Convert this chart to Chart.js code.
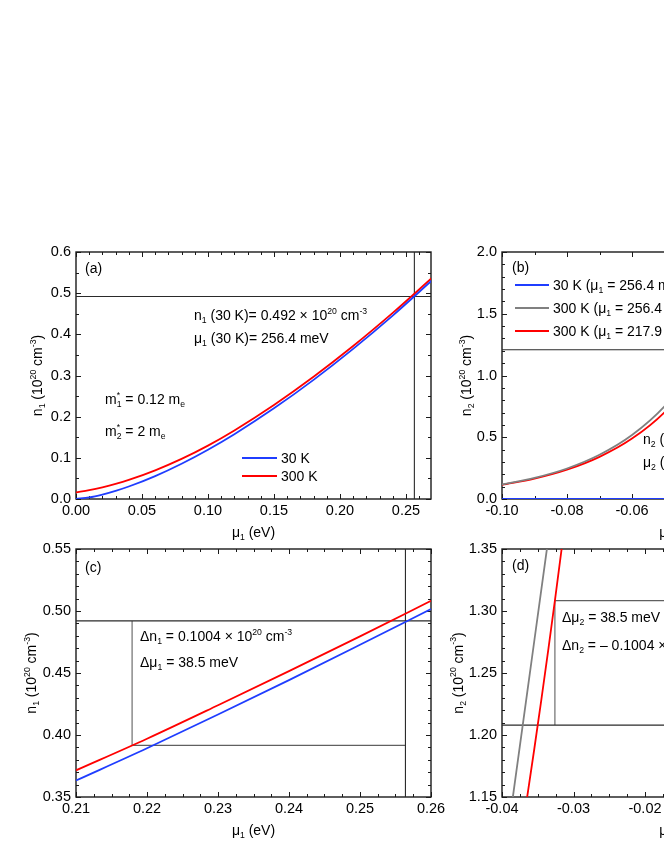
<!DOCTYPE html>
<html><head><meta charset="utf-8">
<script src="https://cdn.jsdelivr.net/npm/chart.js@4.4.1/dist/chart.umd.min.js"></script>
<style>
html,body{margin:0;padding:0;background:#fff;width:664px;height:860px;overflow:hidden;position:relative;}
canvas{position:absolute;}
</style></head><body>
<canvas id="ca"></canvas><canvas id="cb"></canvas><canvas id="cc"></canvas><canvas id="cd"></canvas>
<script>
// ---------------- DATA ----------------
// Panel (a): n1 vs mu1
const aMu    = [0, 0.01, 0.02, 0.03, 0.04, 0.06, 0.08, 0.10, 0.12, 0.15, 0.18, 0.21, 0.24, 0.27];
const aN30K  = [0.0005, 0.0038, 0.0107, 0.0197, 0.0303, 0.0557, 0.0857, 0.1198, 0.1575, 0.2202, 0.2894, 0.3647, 0.4456, 0.5317];
const aN300K = [0.0160, 0.0215, 0.0284, 0.0366, 0.0463, 0.0697, 0.0974, 0.1297, 0.1665, 0.2283, 0.2968, 0.3715, 0.4520, 0.5377];
const aRefN = 0.492, aRefMu = 0.2564;
const aXTicks = [0, 0.05, 0.10, 0.15, 0.20, 0.25];
const aXLabels = ['0.00', '0.05', '0.10', '0.15', '0.20', '0.25'];
const aYTicks = [0, 0.1, 0.2, 0.3, 0.4, 0.5, 0.6];
const aYLabels = ['0.0', '0.1', '0.2', '0.3', '0.4', '0.5', '0.6'];

// Panel (b): n2 vs mu2
const bMu      = [-0.10, -0.09, -0.08, -0.07, -0.06, -0.05, -0.04, -0.03, -0.02];
const bN30K    = [0, 0, 0, 0, 0, 0, 0, 0, 0];
const bN300Ka  = [0.118, 0.171, 0.247, 0.358, 0.518, 0.750, 1.085, 1.571, 2.270];
const bN300Kb  = [0.115, 0.165, 0.237, 0.341, 0.489, 0.702, 1.008, 1.447, 2.078];
const bMu30K   = [-0.10, 0.01];
const bRefN = 1.208;
const bXTicks = [-0.10, -0.08, -0.06, -0.04, -0.02, 0.00];
const bXLabels = ['-0.10', '-0.08', '-0.06', '-0.04', '-0.02', '0.00'];
const bYTicks = [0, 0.5, 1.0, 1.5, 2.0];
const bYLabels = ['0.0', '0.5', '1.0', '1.5', '2.0'];

// Panel (c): zoom of (a)
const cMu    = [0.21, 0.22, 0.23, 0.24, 0.25, 0.26];
const cN30K  = [0.3633, 0.3893, 0.4165, 0.4443, 0.4728, 0.5016];
const cN300K = [0.3715, 0.3970, 0.4240, 0.4515, 0.4795, 0.5082];
const cRefN = 0.492, cRefMu = 0.2564, cBoxN = 0.3916, cBoxMu = 0.2179;
const cXTicks = [0.21, 0.22, 0.23, 0.24, 0.25, 0.26];
const cXLabels = ['0.21', '0.22', '0.23', '0.24', '0.25', '0.26'];
const cYTicks = [0.35, 0.40, 0.45, 0.50, 0.55];
const cYLabels = ['0.35', '0.40', '0.45', '0.50', '0.55'];

// Panel (d): zoom of (b)
const dMu      = [-0.0395, -0.0385, -0.0375, -0.0365, -0.0355, -0.0345, -0.0335, -0.0325, -0.0315, -0.0305];
const dN300Ka  = [1.1072, 1.1492, 1.1912, 1.2332, 1.2752, 1.3172, 1.3592, 1.4012, 1.4432, 1.4852];
const dN300Kb  = [1.0401, 1.0752, 1.1116, 1.1492, 1.1881, 1.2283, 1.2699, 1.3128, 1.3572, 1.4031];
const dRefN = 1.208, dBoxN = 1.3084, dBoxMu = -0.0326;
const dXTicks = [-0.04, -0.03, -0.02, -0.01, 0.00, 0.01];
const dXLabels = ['-0.04', '-0.03', '-0.02', '-0.01', '0.00', '0.01'];
const dYTicks = [1.15, 1.20, 1.25, 1.30, 1.35];
const dYLabels = ['1.15', '1.20', '1.25', '1.30', '1.35'];

// ---------------- STYLE / HELPERS ----------------
const FONT = "'Liberation Sans', Arial, Helvetica, sans-serif";
const TICK_FS = 14.5, TEXT_FS = 14;
const BLUE = '#1f3dff', RED = '#ff0000', GRAY = '#808080', REF = '#2a2a2a', BOX = '#606060';
Chart.defaults.font.family = FONT;

const pts = (xs, ys) => xs.map((x, i) => ({ x, y: ys[i] }));
function curve(label, xs, ys, color, w) {
  return { label, data: pts(xs, ys), showLine: true, borderColor: color, backgroundColor: color,
           borderWidth: w || 1.8, pointRadius: 0, cubicInterpolationMode: 'monotone', fill: false };
}
function seg(x1, y1, x2, y2, color) {
  return { label: '', data: [{ x: x1, y: y1 }, { x: x2, y: y2 }], showLine: true, borderColor: color,
           borderWidth: 1.1, pointRadius: 0, tension: 0, fill: false };
}

function richParts(str) {
  const re = /(\^\{[^}]*\}|_\{[^}]*\})/g;
  const parts = []; let last = 0, m;
  while ((m = re.exec(str))) {
    if (m.index > last) parts.push({ k: 'n', s: str.slice(last, m.index) });
    parts.push({ k: m[0][0] === '^' ? 'sup' : 'sub', s: m[0].slice(2, -1) });
    last = re.lastIndex;
  }
  if (last < str.length) parts.push({ k: 'n', s: str.slice(last) });
  return parts;
}
function layoutRich(ctx, str, size) {
  const parts = richParts(str);
  const small = size * 0.62;
  let x = 0; const items = [];
  for (let i = 0; i < parts.length; i++) {
    const p = parts[i];
    const fs = p.k === 'n' ? size : small;
    ctx.font = fs + 'px ' + FONT;
    const w = ctx.measureText(p.s).width;
    items.push({ k: p.k, s: p.s, x, fs });
    const nx = parts[i + 1];
    if (p.k !== 'n' && nx && nx.k !== 'n' && nx.k !== p.k) {
      ctx.font = small + 'px ' + FONT;
      const w2 = ctx.measureText(nx.s).width;
      items.push({ k: nx.k, s: nx.s, x, fs: small });
      x += Math.max(w, w2); i++;
    } else x += w;
  }
  return { items, width: x };
}
function drawRich(ctx, str, x, y, size, align) {
  const L = layoutRich(ctx, str, size);
  const x0 = align === 'center' ? x - L.width / 2 : align === 'right' ? x - L.width : x;
  const base = y + 0.358 * size;
  ctx.textAlign = 'left'; ctx.textBaseline = 'alphabetic'; ctx.fillStyle = '#000';
  for (const it of L.items) {
    ctx.font = it.fs + 'px ' + FONT;
    const b = it.k === 'sup' ? base - 0.43 * size : it.k === 'sub' ? base + 0.24 * size : base;
    ctx.fillText(it.s, x0 + it.x, b);
  }
}
function minorVals(min, max, step, majors) {
  const out = [];
  const k0 = Math.ceil(min / step - 1e-6), k1 = Math.floor(max / step + 1e-6);
  for (let k = k0; k <= k1; k++) {
    const v = k * step;
    if (!majors.some(m => Math.abs(m - v) < step * 1e-3)) out.push(v);
  }
  return out;
}

function framePlugin(cfg) {
  return {
    id: 'frame',
    beforeDatasetsDraw(chart) {
      const { ctx, chartArea: a, scales: { x, y } } = chart;
      ctx.save();
      ctx.strokeStyle = '#1a1a1a';
      ctx.lineWidth = 1;
      const drawX = (vals, len) => vals.forEach(v => {
        const p = Math.round(x.getPixelForValue(v)) + 0.5;
        ctx.beginPath(); ctx.moveTo(p, a.bottom); ctx.lineTo(p, a.bottom - len);
        ctx.moveTo(p, a.top); ctx.lineTo(p, a.top + len); ctx.stroke();
      });
      const drawY = (vals, len) => vals.forEach(v => {
        const p = Math.round(y.getPixelForValue(v)) + 0.5;
        ctx.beginPath(); ctx.moveTo(a.left, p); ctx.lineTo(a.left + len, p);
        ctx.moveTo(a.right, p); ctx.lineTo(a.right - len, p); ctx.stroke();
      });
      drawX(cfg.xTicks, 5); drawY(cfg.yTicks, 5);
      drawX(minorVals(cfg.xMin, cfg.xMax, cfg.xMinor, cfg.xTicks), 3);
      drawY(minorVals(cfg.yMin, cfg.yMax, cfg.yMinor, cfg.yTicks), 3);
      ctx.lineWidth = 1.4;
      ctx.strokeRect(a.left, a.top, a.right - a.left, a.bottom - a.top);
      ctx.restore();
    },
    afterDraw(chart) {
      const { ctx, chartArea: a } = chart;
      ctx.save();
      for (const t of cfg.texts) drawRich(ctx, t.t, a.left + t.dx, a.top + t.dy, TEXT_FS, 'left');
      for (const lg of cfg.legend) {
        const ds = chart.data.datasets[lg.ds];
        ctx.strokeStyle = ds.borderColor; ctx.lineWidth = ds.borderWidth;
        ctx.beginPath(); ctx.moveTo(a.left + lg.dx1, a.top + lg.dy); ctx.lineTo(a.left + lg.dx2, a.top + lg.dy); ctx.stroke();
        drawRich(ctx, ds.label, a.left + lg.tx, a.top + lg.dy, TEXT_FS, 'left');
      }
      drawRich(ctx, cfg.xTitle, (a.left + a.right) / 2, a.bottom + cfg.xTitleDy, TEXT_FS, 'center');
      ctx.translate(a.left + cfg.yTitleDx, (a.top + a.bottom) / 2);
      ctx.rotate(-Math.PI / 2);
      drawRich(ctx, cfg.yTitle, 0, 0, TEXT_FS, 'center');
      ctx.restore();
    }
  };
}

function makePanel(id, box, cfg) {
  const cv = document.getElementById(id);
  cv.width = box.cw; cv.height = box.ch;
  cv.style.left = box.cx + 'px'; cv.style.top = box.cy + 'px';
  cv.style.width = box.cw + 'px'; cv.style.height = box.ch + 'px';
  const YW = 60, XH = 40;
  const padding = { left: box.L - box.cx - YW, top: box.T - box.cy,
                    right: box.cx + box.cw - box.R, bottom: box.cy + box.ch - box.B - XH };
  const tickFont = { size: TICK_FS, family: FONT };
  new Chart(cv, {
    type: 'scatter',
    data: { datasets: cfg.datasets },
    options: {
      responsive: false, animation: false, devicePixelRatio: 1,
      layout: { padding },
      plugins: { legend: { display: false }, tooltip: { enabled: false } },
      scales: {
        x: { type: 'linear', min: cfg.xMin, max: cfg.xMax,
             afterFit: s => { s.height = XH; },
             afterBuildTicks: s => { s.ticks = cfg.xTicks.map(v => ({ value: v })); },
             grid: { display: false, drawTicks: false }, border: { display: false },
             ticks: { padding: 3, color: '#000', font: tickFont, maxRotation: 0, autoSkip: false,
                      callback: (v, i) => cfg.xLabels[i] } },
        y: { type: 'linear', min: cfg.yMin, max: cfg.yMax,
             afterFit: s => { s.width = YW; },
             afterBuildTicks: s => { s.ticks = cfg.yTicks.map(v => ({ value: v })); },
             grid: { display: false, drawTicks: false }, border: { display: false },
             ticks: { padding: 5, color: '#000', font: tickFont, autoSkip: false,
                      callback: (v, i) => cfg.yLabels[i] } }
      }
    },
    plugins: [framePlugin(cfg)]
  });
}

// ---------------- PANELS ----------------
const aXMin = 0, aXMax = 0.269, aYMin = 0, aYMax = 0.6;
makePanel('ca', { cx: 0, cy: 210, cw: 470, ch: 350, L: 76, T: 252, R: 431, B: 499 }, {
  xMin: aXMin, xMax: aXMax, yMin: aYMin, yMax: aYMax, xMinor: 0.01, yMinor: 0.05,
  xTicks: aXTicks, xLabels: aXLabels, yTicks: aYTicks, yLabels: aYLabels,
  datasets: [
    curve('30 K', aMu, aN30K, BLUE),
    curve('300 K', aMu, aN300K, RED),
    seg(aXMin, aRefN, aXMax, aRefN, REF),
    seg(aRefMu, aYMin, aRefMu, aYMax, REF)
  ],
  texts: [
    { t: '(a)', dx: 9, dy: 16 },
    { t: 'n_{1} (30 K)= 0.492 × 10^{20} cm^{-3}', dx: 118, dy: 63 },
    { t: 'μ_{1} (30 K)= 256.4 meV', dx: 118, dy: 86 },
    { t: 'm^{*}_{1} = 0.12 m_{e}', dx: 29, dy: 147 },
    { t: 'm^{*}_{2} = 2 m_{e}', dx: 29, dy: 179 }
  ],
  legend: [
    { ds: 0, dx1: 166, dx2: 201, tx: 205, dy: 206 },
    { ds: 1, dx1: 166, dx2: 201, tx: 205, dy: 224 }
  ],
  xTitle: 'μ_{1} (eV)', xTitleDy: 33,
  yTitle: 'n_{1} (10^{20} cm^{-3})', yTitleDx: -39
});

const bXMin = -0.10, bXMax = 0.01, bYMin = 0, bYMax = 2.0;
makePanel('cb', { cx: 420, cy: 210, cw: 480, ch: 350, L: 502, T: 252, R: 859.5, B: 499 }, {
  xMin: bXMin, xMax: bXMax, yMin: bYMin, yMax: bYMax, xMinor: 0.01, yMinor: 0.1,
  xTicks: bXTicks, xLabels: bXLabels, yTicks: bYTicks, yLabels: bYLabels,
  datasets: [
    curve('30 K (μ_{1} = 256.4 meV)', bMu30K, [bN30K[0], bN30K[bN30K.length - 1]], BLUE, 2),
    curve('300 K (μ_{1} = 256.4 meV)', bMu, bN300Ka, GRAY),
    curve('300 K (μ_{1} = 217.9 meV)', bMu, bN300Kb, RED),
    seg(bXMin, bRefN, bXMax, bRefN, REF)
  ],
  texts: [
    { t: '(b)', dx: 10, dy: 15 },
    { t: 'n_{2} (30 K)= 1.208 × 10^{20} cm^{-3}', dx: 141, dy: 187 },
    { t: 'μ_{2} (30 K)= 28.0 meV', dx: 141, dy: 210 }
  ],
  legend: [
    { ds: 0, dx1: 13, dx2: 47, tx: 51, dy: 33 },
    { ds: 1, dx1: 13, dx2: 47, tx: 51, dy: 56 },
    { ds: 2, dx1: 13, dx2: 47, tx: 51, dy: 79 }
  ],
  xTitle: 'μ_{2} (eV)', xTitleDy: 33,
  yTitle: 'n_{2} (10^{20} cm^{-3})', yTitleDx: -36
});

const cXMin = 0.21, cXMax = 0.26, cYMin = 0.35, cYMax = 0.55;
makePanel('cc', { cx: 0, cy: 520, cw: 470, ch: 340, L: 76, T: 549, R: 431, B: 797 }, {
  xMin: cXMin, xMax: cXMax, yMin: cYMin, yMax: cYMax, xMinor: 0.0025, yMinor: 0.01,
  xTicks: cXTicks, xLabels: cXLabels, yTicks: cYTicks, yLabels: cYLabels,
  datasets: [
    curve('30 K', cMu, cN30K, BLUE),
    curve('300 K', cMu, cN300K, RED),
    seg(cXMin, cRefN, cXMax, cRefN, REF),
    seg(cRefMu, cYMin, cRefMu, cYMax, REF),
    seg(cBoxMu, cBoxN, cBoxMu, cRefN, BOX),
    seg(cBoxMu, cBoxN, cRefMu, cBoxN, BOX)
  ],
  texts: [
    { t: '(c)', dx: 9, dy: 18 },
    { t: 'Δn_{1} = 0.1004 × 10^{20} cm^{-3}', dx: 64, dy: 87 },
    { t: 'Δμ_{1} = 38.5 meV', dx: 64, dy: 113 }
  ],
  legend: [],
  xTitle: 'μ_{1} (eV)', xTitleDy: 33,
  yTitle: 'n_{1} (10^{20} cm^{-3})', yTitleDx: -45
});

const dXMin = -0.04, dXMax = 0.01, dYMin = 1.15, dYMax = 1.35;
makePanel('cd', { cx: 420, cy: 520, cw: 480, ch: 340, L: 502, T: 549, R: 859.5, B: 797 }, {
  xMin: dXMin, xMax: dXMax, yMin: dYMin, yMax: dYMax, xMinor: 0.0025, yMinor: 0.01,
  xTicks: dXTicks, xLabels: dXLabels, yTicks: dYTicks, yLabels: dYLabels,
  datasets: [
    curve('300 K (μ_{1} = 217.9 meV)', dMu, dN300Kb, RED),
    curve('300 K (μ_{1} = 256.4 meV)', dMu, dN300Ka, GRAY),
    seg(dXMin, dRefN, dXMax, dRefN, REF),
    seg(dBoxMu, dRefN, dBoxMu, dBoxN, BOX),
    seg(dBoxMu, dBoxN, dXMax, dBoxN, BOX)
  ],
  texts: [
    { t: '(d)', dx: 10, dy: 16 },
    { t: 'Δμ_{2} = 38.5 meV', dx: 60, dy: 68 },
    { t: 'Δn_{2} = – 0.1004 × 10^{20} cm^{-3}', dx: 60, dy: 96 }
  ],
  legend: [],
  xTitle: 'μ_{2} (eV)', xTitleDy: 33,
  yTitle: 'n_{2} (10^{20} cm^{-3})', yTitleDx: -44.5
});
</script>
</body></html>
